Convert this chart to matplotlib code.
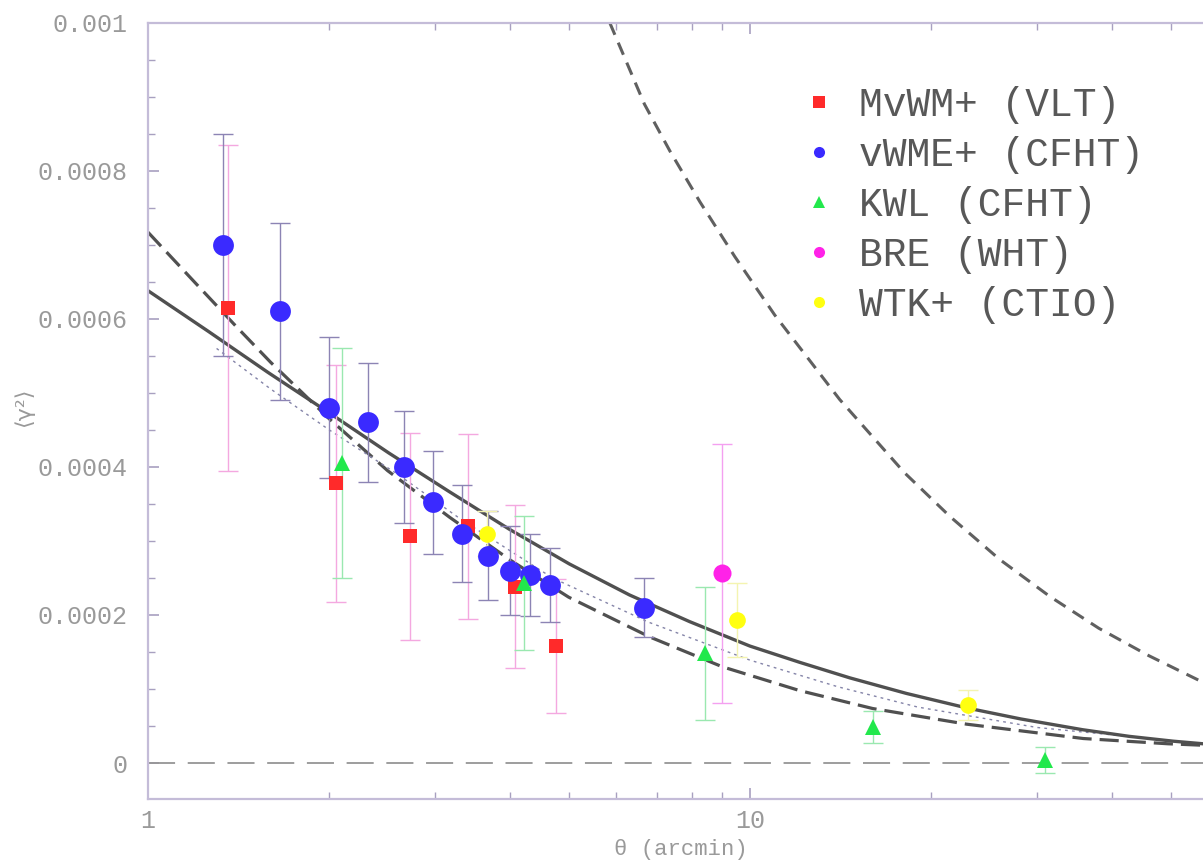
import matplotlib
matplotlib.use("Agg")
import matplotlib.pyplot as plt
from matplotlib.ticker import FixedLocator, NullFormatter, FixedFormatter
from matplotlib.lines import Line2D
import numpy as np

# ---------------- data ----------------
# MvWM+ (VLT)
vlt_x = [1.36, 2.05, 2.72, 3.40, 4.07, 4.76]
vlt_y = [0.000615, 0.000378, 0.000306, 0.000320, 0.000238, 0.000158]
vlt_e = [0.000220, 0.000160, 0.000140, 0.000125, 0.000110, 0.000090]
# vWME+ (CFHT)
cfht_x = [1.33, 1.66, 2.00, 2.32, 2.66, 2.97, 3.32, 3.67, 3.99, 4.31, 4.65, 6.67]
cfht_y = [0.000700, 0.000610, 0.000480, 0.000460, 0.000400, 0.000352, 0.000310,
          0.000280, 0.000260, 0.000254, 0.000240, 0.000210]
cfht_e = [0.000150, 0.000120, 0.000095, 0.000080, 0.000076, 0.000070, 0.000066,
          0.000060, 0.000060, 0.000055, 0.000050, 0.000040]
# KWL (CFHT)
kwl_x = [2.10, 4.21, 8.42, 16.0, 30.9]
kwl_y = [0.000405, 0.000243, 0.000148, 0.0000486, 0.000004]
kwl_e = [0.000155, 0.000090, 0.000090, 0.000022, 0.000018]
# BRE (WHT)
bre_x = [8.98]
bre_y = [0.000256]
bre_e = [0.000175]
# WTK+ (CTIO)
wtk_x = [3.66, 9.51, 23.0]
wtk_y = [0.000310, 0.000193, 0.0000783]
wtk_e = [0.000030, 0.000050, 0.000020]

# model curves
solid_x = [1.0, 1.26, 1.58, 2.0, 2.51, 3.16, 3.98, 5.01, 6.31, 7.94, 10.0, 12.1, 14.66,
           18.2, 22.9, 28.2, 35.7, 42.7, 50.5, 56.6]
solid_y = [0.000638, 0.000583, 0.000528, 0.000473, 0.000419, 0.000367, 0.000316, 0.000269,
           0.000227, 0.000191, 0.000158, 0.000136, 0.000115, 0.0000940, 0.0000745,
           0.0000595, 0.0000450, 0.0000360, 0.0000295, 0.0000260]
ldash_x = [1.0, 1.2, 1.4, 1.6, 1.8, 2.0, 2.5, 3.17, 4.0, 5.0, 6.83, 9.0, 12.1, 16.0,
           22.9, 35.8, 49.5, 56.6]
ldash_y = [0.000717, 0.000648, 0.000590, 0.000541, 0.000501, 0.000465, 0.000395, 0.000332,
           0.000274, 0.000224, 0.000170, 0.000130, 0.0000978, 0.0000736, 0.0000525,
           0.0000331, 0.0000260, 0.0000240]
dot_x = [1.3, 1.6, 2.0, 2.6, 3.3, 4.7, 6.8, 10.0, 14.0, 19.0, 30.0, 56.6]
dot_y = [0.000560, 0.000505, 0.000450, 0.000390, 0.000330, 0.000250, 0.000190, 0.000139,
         0.000103, 0.0000756, 0.000048, 0.000026]
big_x = [5.85, 6.68, 7.36, 8.26, 9.44, 11.0, 14.1, 18.07, 21.5, 26.0, 31.5, 38.0, 46.0, 56.6]
big_y = [0.00100, 0.000890, 0.000827, 0.000758, 0.000684, 0.000605, 0.000491, 0.000392,
         0.000333, 0.000275, 0.000225, 0.000182, 0.000145, 0.000109]

labels = ["MvWM+ (VLT)", "vWME+ (CFHT)", "KWL (CFHT)", "BRE (WHT)", "WTK+ (CTIO)"]
yticks = [0, 0.0002, 0.0004, 0.0006, 0.0008, 0.001]
ytick_labels = ["0", "0.0002", "0.0004", "0.0006", "0.0008", "0.001"]
xticks = [1, 10]
xtick_labels = ["1", "10"]

# ---------------- figure ----------------
W, H = 1203, 866
fig = plt.figure(figsize=(W / 100, H / 100), dpi=100)
ax = fig.add_axes([148 / W, 67 / H, 1 - 148 / W, (799 - 22.7) / H])
ax.set_xscale("log")
ax.set_xlim(1, 56.6)
ax.set_ylim(-0.0000486, 0.001)

axis_col = "#c4bcd8"
for s in ["left", "bottom", "top"]:
    ax.spines[s].set_color(axis_col)
    ax.spines[s].set_linewidth(1.6)
ax.spines["right"].set_visible(False)

# curves
curve_col = "#505050"
ax.axhline(0, color="#959595", lw=1.3, dashes=(15, 7))
ax.plot(big_x, big_y, color="#606060", lw=2.2, dashes=(4.3, 2.8))
ax.plot(ldash_x, ldash_y, color=curve_col, lw=2.3, dashes=(6, 2.5))
ax.plot(dot_x, dot_y, color="#8484a8", lw=1.0, dashes=(2, 3))
ax.plot(solid_x, solid_y, color=curve_col, lw=2.4)

series = [
    (vlt_x, vlt_y, vlt_e, "s", "#ff2a2a", "#f4a8e0", 10),
    (cfht_x, cfht_y, cfht_e, "o", "#3a2aff", "#8c84b4", 15),
    (kwl_x, kwl_y, kwl_e, "^", "#22e84c", "#9ae8b0", 11),
    (bre_x, bre_y, bre_e, "o", "#ff22e8", "#f4a0f0", 13),
    (wtk_x, wtk_y, wtk_e, "o", "#ffff10", "#f4f4b0", 12),
]
for (x, y, e, m, c, ec, ms), lab in zip(series, labels):
    ax.errorbar(x, y, yerr=e, fmt="none", ecolor=ec, elinewidth=1.0, capsize=7, capthick=1.0, zorder=3)
    ax.plot(x, y, linestyle="none", marker=m, color=c, markersize=ms, markeredgewidth=0, zorder=4)

# legend
handles = [Line2D([], [], linestyle="none", marker=s[3], color=s[4], markersize=8, markeredgewidth=0)
           for s in series]
leg = fig.legend(handles, labels, loc="upper left", bbox_to_anchor=(800 / W, 1 - 86 / H),
                 frameon=False, prop={"family": "Liberation Mono", "size": 28.5},
                 labelcolor="#585858", handletextpad=0.55, labelspacing=0.3,
                 handlelength=0.95, borderpad=0, borderaxespad=0)

# ticks
ax.yaxis.set_major_locator(FixedLocator(yticks))
ax.yaxis.set_major_formatter(FixedFormatter(ytick_labels))
ax.yaxis.set_minor_locator(FixedLocator(np.arange(-0.00005, 0.00101, 0.00005)))
ax.xaxis.set_major_locator(FixedLocator(xticks))
ax.xaxis.set_major_formatter(FixedFormatter(xtick_labels))
ax.xaxis.set_minor_locator(FixedLocator([2, 3, 4, 5, 6, 7, 8, 9, 20, 30, 40, 50]))
ax.xaxis.set_minor_formatter(NullFormatter())
ax.tick_params(which="both", direction="in", color="#a8a0c0", top=True, right=False)
ax.tick_params(which="major", length=8, width=1.2)
ax.tick_params(which="minor", length=5, width=1.0)
for lab in ax.get_xticklabels() + ax.get_yticklabels():
    lab.set_fontfamily("Liberation Mono")
    lab.set_fontsize(18)
    lab.set_color("#9a9a9a")
ax.tick_params(axis="y", pad=15)
ax.tick_params(axis="x", pad=7)

ax.set_xlabel("θ (arcmin)", fontfamily=["Liberation Mono", "DejaVu Sans"], fontsize=16,
              color="#9a9a9a")
ax.xaxis.set_label_coords((681 - 148) / (W - 148), -0.052)
ax.set_ylabel("⟨γ²⟩", fontfamily="DejaVu Sans", fontsize=16, color="#999999")
ax.yaxis.set_label_coords(-0.108, 0.505)

fig.savefig("out.png", dpi=100)
